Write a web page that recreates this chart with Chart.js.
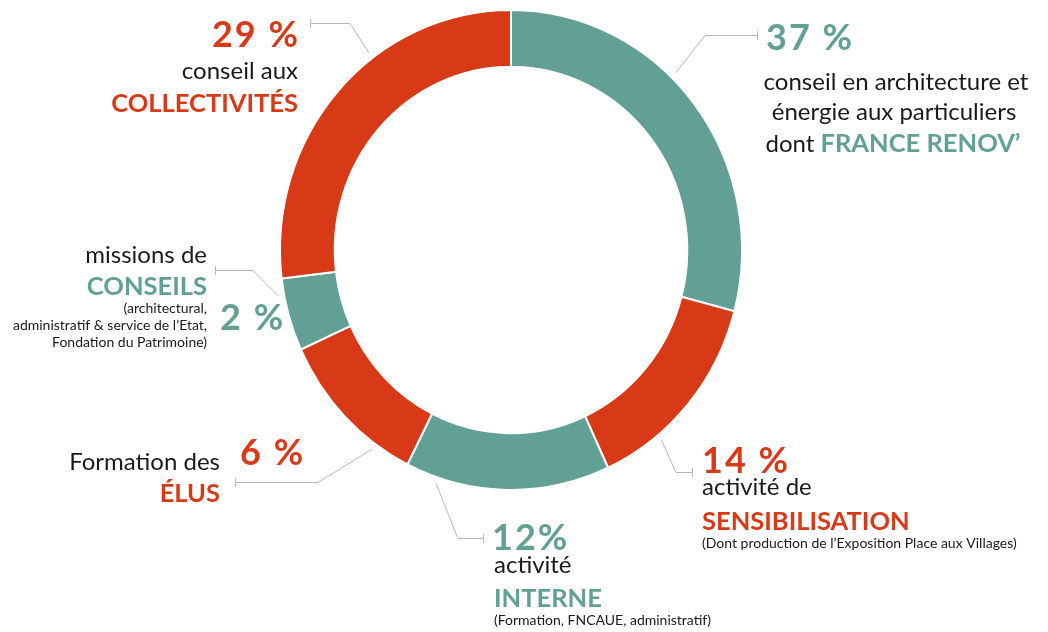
<!DOCTYPE html>
<html lang="fr">
<head>
<meta charset="utf-8">
<title>Répartition des activités</title>
<script src="https://cdn.jsdelivr.net/npm/chart.js@4.4.0/dist/chart.umd.min.js"></script>
<style>
  html, body { margin: 0; padding: 0; background: #fff; }
  #wrap { width: 1048px; height: 632px; }
</style>
</head>
<body>
<div id="wrap"><canvas id="donut" width="1048" height="632"></canvas></div>
<script>
// Données (sens horaire depuis midi)
const categories = [
  'conseil en architecture et énergie aux particuliers',
  'activité de sensibilisation',
  'activité interne',
  'formation des élus',
  'missions de conseils',
  'conseil aux collectivités'
];
const pctLabels = ['37 %', '14 %', '12%', '6 %', '2 %', '29 %'];
// parts d'arc telles que dessinées sur le visuel
const arcShares = [29.1, 14.0, 14.3, 10.8, 4.9, 26.9];

const TEAL = '#62a096';
const RED = '#d83a18';
const DARK = '#1a1a1a';
const sliceColors = [TEAL, RED, TEAL, RED, TEAL, RED];

// mise en page
const Y_STRETCH = 1.039;
const FONT = 'Lato, "Open Sans", sans-serif';
const fPct = 'bold 36px ' + FONT;
const fLight = '24px ' + FONT;
const fCaps = 'bold 25.5px ' + FONT;
const fSmall = '14px ' + FONT;
const PCT_SPACING = '2px';

// position le long de l'arc, coude et bout des traits de rappel
const leaders = [
  { frac: 0.42, elbow: [705, 35], end: [757, 35] },
  { frac: 0.71, elbow: [676, 472], end: [692, 472] },
  { frac: 0.84, elbow: [458, 538], end: [483, 538] },
  { frac: 0.24, elbow: [318, 482], end: [235, 482] },
  { frac: 0.78, elbow: [253, 270], end: [215, 270] },
  { frac: 0.62, elbow: [350, 23], end: [310, 23] }
];

// blocs de texte
const textBlocks = [
  [
    { x: 766, y: 50, align: 'left', pct: true, runs: [[pctLabels[0], fPct, TEAL]] },
    { x: 896, y: 90, align: 'center', runs: [['conseil en architecture et', fLight, DARK]] },
    { x: 894, y: 120, align: 'center', runs: [['énergie aux particuliers', fLight, DARK]] },
    { x: 893, y: 152, align: 'center', runs: [['dont ', fLight, DARK], ['FRANCE RENOV’', fCaps, TEAL]] }
  ],
  [
    { x: 702, y: 473, align: 'left', pct: true, runs: [[pctLabels[1], fPct, RED]] },
    { x: 702, y: 495, align: 'left', runs: [['activité de', fLight, DARK]] },
    { x: 702, y: 530, align: 'left', runs: [['SENSIBILISATION', fCaps, RED]] },
    { x: 702, y: 548, align: 'left', runs: [['(Dont production de l’Exposition Place aux Villages)', fSmall, DARK]] }
  ],
  [
    { x: 492, y: 550, align: 'left', pct: true, runs: [[pctLabels[2], fPct, TEAL]] },
    { x: 494, y: 573, align: 'left', runs: [['activité', fLight, DARK]] },
    { x: 494, y: 607, align: 'left', runs: [['INTERNE', fCaps, TEAL]] },
    { x: 494, y: 625, align: 'left', runs: [['(Formation, FNCAUE, administratif)', fSmall, DARK]] }
  ],
  [
    { x: 240, y: 465, align: 'left', pct: true, runs: [[pctLabels[3], fPct, RED]] },
    { x: 220, y: 470, align: 'right', runs: [['Formation des', fLight, DARK]] },
    { x: 220, y: 502, align: 'right', runs: [['ÉLUS', fCaps, RED]] }
  ],
  [
    { x: 220, y: 330, align: 'left', pct: true, runs: [[pctLabels[4], fPct, TEAL]] },
    { x: 207, y: 263, align: 'right', runs: [['missions de', fLight, DARK]] },
    { x: 207, y: 295, align: 'right', runs: [['CONSEILS', fCaps, TEAL]] },
    { x: 207, y: 313, align: 'right', runs: [['(architectural,', fSmall, DARK]] },
    { x: 207, y: 330, align: 'right', runs: [['administratif & service de l’Etat,', fSmall, DARK]] },
    { x: 207, y: 347, align: 'right', runs: [['Fondation du Patrimoine)', fSmall, DARK]] }
  ],
  [
    { x: 298, y: 47, align: 'right', pct: true, runs: [[pctLabels[5], fPct, RED]] },
    { x: 298, y: 79, align: 'right', runs: [['conseil aux', fLight, DARK]] },
    { x: 298, y: 112, align: 'right', runs: [['COLLECTIVITÉS', fCaps, RED]] }
  ]
];

// l'anneau du visuel est légèrement plus haut que large
const stretchPlugin = {
  id: 'stretch',
  beforeDatasetsDraw(chart) {
    const arc = chart.getDatasetMeta(0).data[0];
    const ctx = chart.ctx;
    ctx.save();
    ctx.translate(arc.x, arc.y);
    ctx.scale(1, Y_STRETCH);
    ctx.translate(-arc.x, -arc.y);
  },
  afterDatasetsDraw(chart) {
    chart.ctx.restore();
  }
};

function drawLine(ctx, line) {
  ctx.letterSpacing = line.pct ? PCT_SPACING : '0px';
  let total = 0;
  line.runs.forEach(r => {
    ctx.font = r[1];
    total += ctx.measureText(r[0]).width;
  });
  if (line.pct) total -= parseFloat(PCT_SPACING);
  let x = line.x;
  if (line.align === 'right') x -= total;
  if (line.align === 'center') x -= total / 2;
  ctx.textAlign = 'left';
  ctx.textBaseline = 'alphabetic';
  line.runs.forEach(r => {
    ctx.font = r[1];
    ctx.fillStyle = r[2];
    ctx.fillText(r[0], x, line.y);
    x += ctx.measureText(r[0]).width;
  });
  ctx.letterSpacing = '0px';
}

const calloutPlugin = {
  id: 'callouts',
  afterDraw(chart) {
    const ctx = chart.ctx;
    const meta = chart.getDatasetMeta(0);
    ctx.save();
    ctx.strokeStyle = '#b8b8b8';
    ctx.lineWidth = 1;
    meta.data.forEach((arc, i) => {
      const ld = leaders[i];
      const a = arc.startAngle + ld.frac * (arc.endAngle - arc.startAngle);
      const r = arc.outerRadius + 6;
      const sx = arc.x + Math.cos(a) * r;
      const sy = arc.y + Math.sin(a) * r * Y_STRETCH;
      ctx.beginPath();
      ctx.moveTo(sx, sy);
      ctx.lineTo(ld.elbow[0], ld.elbow[1] + 0.5);
      ctx.lineTo(ld.end[0], ld.end[1] + 0.5);
      ctx.stroke();
      ctx.beginPath();
      ctx.moveTo(ld.end[0] + 0.5, ld.end[1] - 4);
      ctx.lineTo(ld.end[0] + 0.5, ld.end[1] + 5);
      ctx.stroke();
    });
    textBlocks.forEach(block => block.forEach(line => drawLine(ctx, line)));
    ctx.restore();
  }
};

new Chart(document.getElementById('donut'), {
  type: 'doughnut',
  data: {
    labels: categories,
    datasets: [{
      data: arcShares,
      backgroundColor: sliceColors,
      borderColor: '#ffffff',
      borderWidth: 2,
      hoverOffset: 0
    }]
  },
  options: {
    responsive: false,
    animation: false,
    cutout: '76.3%',
    layout: {
      padding: { left: 279, right: 305, top: 18, bottom: 150 }
    },
    plugins: {
      legend: { display: false },
      tooltip: { enabled: false }
    }
  },
  plugins: [stretchPlugin, calloutPlugin]
});
</script>
</body>
</html>
